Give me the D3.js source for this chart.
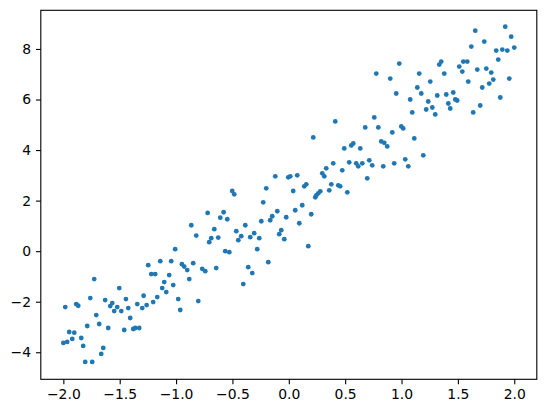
<!DOCTYPE html>
<html><head><meta charset="utf-8">
<script src="https://cdn.jsdelivr.net/npm/d3@7"></script>
<style>html,body{margin:0;padding:0;background:#fff}svg{display:block}</style>
</head><body>
<script>
const xValues = [-2.00,-1.983,-1.966,-1.948,-1.921,-1.903,-1.886,-1.868,-1.841,-1.824,-1.806,-1.788,-1.761,-1.744,-1.726,-1.708,-1.682,-1.664,-1.646,-1.629,-1.602,-1.584,-1.566,-1.549,-1.522,-1.504,-1.486,-1.460,-1.445,-1.424,-1.407,-1.380,-1.362,-1.344,-1.327,-1.300,-1.288,
-1.261,-1.247,-1.220,-1.203,-1.185,-1.167,-1.140,-1.123,-1.105,-1.087,-1.061,-1.043,-1.025,-1.008,-0.981,-0.963,-0.948,-0.928,-0.901,-0.883,-0.865,-0.848,-0.821,-0.803,-0.768,-0.741,-0.720,-0.706,-0.688,-0.661,-0.644,-0.626,-0.608,
-0.578,-0.564,-0.546,-0.528,-0.502,-0.484,-0.466,-0.448,-0.422,-0.404,-0.386,-0.360,-0.342,-0.324,-0.307,-0.280,-0.262,-0.244,-0.227,-0.200,-0.182,-0.165,-0.147,-0.120,-0.102,-0.085,-0.067,-0.040,-0.023,-0.005,0.013,0.039,0.057,0.075,0.093,0.119,
0.137,0.155,0.173,0.199,0.217,0.235,0.244,0.261,0.279,0.297,0.315,0.332,0.359,0.377,0.394,0.412,0.439,0.456,0.474,0.492,0.519,0.536,0.554,0.572,0.598,0.616,0.634,0.652,0.678,0.696,0.714,0.740,0.758,0.794,0.820,0.838,0.847,
0.776,0.873,0.900,0.918,0.935,0.953,0.980,0.998,1.015,1.033,1.060,1.077,1.095,1.113,1.140,1.157,1.175,1.193,1.219,1.237,1.255,1.273,1.299,1.317,1.335,1.352,1.379,1.397,1.415,1.432,1.459,1.477,1.494,1.512,1.539,1.548,
1.583,1.592,1.619,1.636,1.654,1.672,1.698,1.716,1.734,1.752,1.778,1.796,1.814,1.840,1.858,1.876,1.894,1.920,1.938,1.956,1.973,2.000];
const yValues = [-3.632,-2.211,-3.593,-3.198,-3.474,-3.225,-2.092,-2.159,-3.435,-3.750,-4.382,-2.961,-1.855,-4.382,-1.105,-2.527,-2.882,-4.066,-3.829,-1.934,-3.040,-2.171,-2.053,-2.369,-2.211,-1.461,-2.369,-3.119,-1.895,-2.250,-2.645,-3.079,-3.040,-2.092,-3.040,-2.250,-1.765,
-2.132,-0.553,-0.908,-2.013,-0.908,-1.816,-0.395,-1.461,-1.224,-1.619,-0.948,-0.395,-1.342,0.079,-1.895,-2.329,-0.513,-0.608,-0.750,-1.105,1.026,-0.474,0.616,-1.974,-0.699,-0.790,1.512,0.355,0.513,0.869,-0.671,0.537,1.326,
1.540,0.0,1.263,-0.039,2.381,2.250,0.790,0.434,0.592,-1.303,1.026,-0.632,0.553,-0.869,0.711,0.079,0.513,1.184,1.934,2.487,-0.434,1.224,1.382,2.961,1.579,0.671,0.829,0.474,1.342,2.921,2.961,2.381,1.619,3.000,1.105,1.816,
2.566,2.645,0.197,1.461,4.501,2.132,2.211,2.290,2.369,3.079,2.961,3.277,2.408,2.645,3.474,5.132,2.606,2.566,3.198,4.066,2.329,3.514,4.185,4.264,3.474,3.356,4.066,3.474,4.895,2.882,3.593,3.395,5.290,4.895,4.343,3.356,4.287,
7.027,4.145,6.830,4.698,3.474,6.238,7.422,4.935,4.856,3.632,3.356,6.001,5.488,4.461,6.475,7.027,6.238,3.790,5.606,5.922,6.711,5.685,5.409,6.159,7.383,7.501,7.027,6.198,5.843,5.645,6.277,6.001,5.961,7.304,7.106,7.501,
7.501,6.711,8.093,5.488,8.725,7.185,5.764,6.475,8.291,7.225,6.632,7.067,6.790,7.935,7.580,6.080,7.975,8.883,7.935,6.830,8.488,8.054];
const xTicks = [-2.0,-1.5,-1.0,-0.5,0.0,0.5,1.0,1.5,2.0];
const yTicks = [-4,-2,0,2,4,6,8];

(function () {
const W = 546, H = 413;
const mL = 40.8, mR = 536.8, mT = 10.3, mB = 379.3;
const svg = d3.select("body").append("svg").attr("width", W).attr("height", H);
const x = d3.scaleLinear().domain([-2.2, 2.2]).range([mL, mR]);
const y = d3.scaleLinear().domain([-5.07, 9.53]).range([mB, mT]);
const fmtX = d => d3.format(".1f")(d).replace("-", "\u2212");
const fmtY = d => String(d).replace("-", "\u2212");

svg.append("g").selectAll("circle").data(xValues.map((v,i)=>[v,yValues[i]])).join("circle")
  .attr("cx", d => x(d[0])).attr("cy", d => y(d[1])).attr("r", 2.4).attr("fill", "#1f77b4");

const font = "DejaVu Sans, sans-serif";
const gx = svg.append("g").attr("transform", `translate(0,${mB})`)
  .call(d3.axisBottom(x).tickValues(xTicks).tickFormat(fmtX).tickSizeOuter(0).tickSize(4.86).tickPadding(4.86));
const gy = svg.append("g").attr("transform", `translate(${mL},0)`)
  .call(d3.axisLeft(y).tickValues(yTicks).tickFormat(fmtY).tickSizeOuter(0).tickSize(4.86).tickPadding(4.86));
[gx, gy].forEach(g => {
  g.select(".domain").remove();
  g.selectAll("line").attr("stroke", "#000").attr("stroke-width", 1.1);
  g.selectAll("text").attr("font-family", font).attr("font-size", "13.9px").attr("fill", "#000");
});
svg.append("rect").attr("x", mL).attr("y", mT).attr("width", mR-mL).attr("height", mB-mT)
  .attr("fill", "none").attr("stroke", "#000").attr("stroke-width", 1.1);
})();
</script>
</body></html>
